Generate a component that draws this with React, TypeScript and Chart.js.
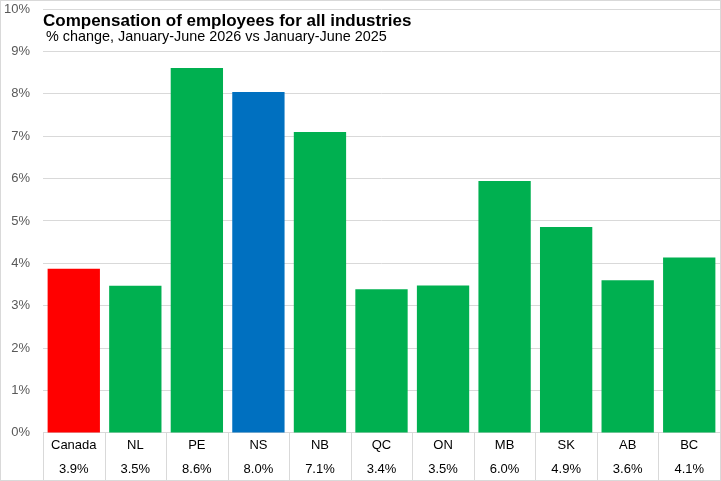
import { useEffect, useRef } from "react"
import { Chart, registerables } from "chart.js"

Chart.register(...registerables)

const regions = ["Canada", "NL", "PE", "NS", "NB", "QC", "ON", "MB", "SK", "AB", "BC"]
const changes = [3.87, 3.47, 8.61, 8.04, 7.1, 3.39, 3.48, 5.94, 4.86, 3.6, 4.14]
const changeLabels = ["3.9%", "3.5%", "8.6%", "8.0%", "7.1%", "3.4%", "3.5%", "6.0%", "4.9%", "3.6%", "4.1%"]
const barColors = ["#FF0000", "#00B050", "#00B050", "#0070C0", "#00B050", "#00B050", "#00B050", "#00B050", "#00B050", "#00B050", "#00B050"]
const title = "Compensation of employees for all industries"
const subtitle = "% change, January-June 2026 vs January-June 2025"

const FONT = "'Liberation Sans', Arial, sans-serif"
const GRID = "#d9d9d9"

// white page, excel-style frame, category separators and the title drawn over the plot
const framePlugin = {
  id: "frame",
  beforeDraw(chart: Chart) {
    const ctx = chart.ctx
    ctx.save()
    ctx.fillStyle = "#ffffff"
    ctx.fillRect(0, 0, chart.width, chart.height)
    ctx.restore()
  },
  afterDraw(chart: Chart) {
    const ctx = chart.ctx
    const area = chart.chartArea
    const x = chart.scales.x
    ctx.save()
    ctx.strokeStyle = GRID
    ctx.lineWidth = 1
    ctx.strokeRect(0.5, 0.5, chart.width - 1, chart.height - 1)

    // separators between the category labels
    const step = x.getPixelForValue(1) - x.getPixelForValue(0)
    ctx.beginPath()
    for (let i = 0; i <= regions.length; i++) {
      const px = Math.round(x.getPixelForValue(i) - step / 2) + 0.5
      ctx.moveTo(px, area.bottom)
      ctx.lineTo(px, chart.height - 1)
    }
    ctx.stroke()

    ctx.fillStyle = "#000000"
    ctx.textBaseline = "alphabetic"
    ctx.textAlign = "left"
    ctx.font = `bold 17px ${FONT}`
    ctx.fillText(title, area.left, area.top + 17)
    ctx.font = `14.4px ${FONT}`
    ctx.fillText(subtitle, area.left + 3, area.top + 32)
    ctx.restore()
  },
}

export default function App() {
  const chartRef = useRef<HTMLCanvasElement>(null)
  const chartInstance = useRef<Chart | null>(null)

  useEffect(() => {
    document.body.style.margin = "0"
    if (!chartRef.current) return
    if (chartInstance.current) {
      chartInstance.current.destroy()
    }
    const ctx = chartRef.current.getContext("2d")
    if (!ctx) return

    chartInstance.current = new Chart(ctx, {
      type: "bar",
      data: {
        labels: regions.map((r, i) => [r, changeLabels[i]]),
        datasets: [
          {
            data: changes,
            backgroundColor: barColors,
            borderWidth: 0,
            categoryPercentage: 1,
            barPercentage: 0.85,
          },
        ],
      },
      options: {
        animation: false,
        responsive: true,
        maintainAspectRatio: false,
        layout: {
          padding: { top: 9, right: 1, bottom: 0, left: 0 },
        },
        plugins: {
          legend: { display: false },
          tooltip: { enabled: false },
        },
        scales: {
          x: {
            offset: true,
            grid: { display: false, drawTicks: false },
            border: { display: true, color: GRID },
            ticks: {
              padding: 0,
              color: "#000000",
              font: { family: FONT, size: 13, lineHeight: 1.85 },
              maxRotation: 0,
              autoSkip: false,
            },
          },
          y: {
            min: 0,
            max: 10,
            // invisible tick marks keep the labels away from the plot
            grid: { color: GRID, drawTicks: true, tickLength: 13, tickColor: "rgba(0,0,0,0)" },
            border: { display: false },
            ticks: {
              stepSize: 1,
              padding: 0,
              color: "#595959",
              font: { family: FONT, size: 13 },
              callback: (v) => `${v}%`,
            },
            afterFit: (scale) => {
              scale.width = 43
            },
          },
        },
      },
      plugins: [framePlugin],
    })

    return () => {
      if (chartInstance.current) {
        chartInstance.current.destroy()
      }
    }
  }, [])

  return (
    <div style={{ position: "relative", width: 721, height: 481 }}>
      <canvas ref={chartRef} />
    </div>
  )
}
